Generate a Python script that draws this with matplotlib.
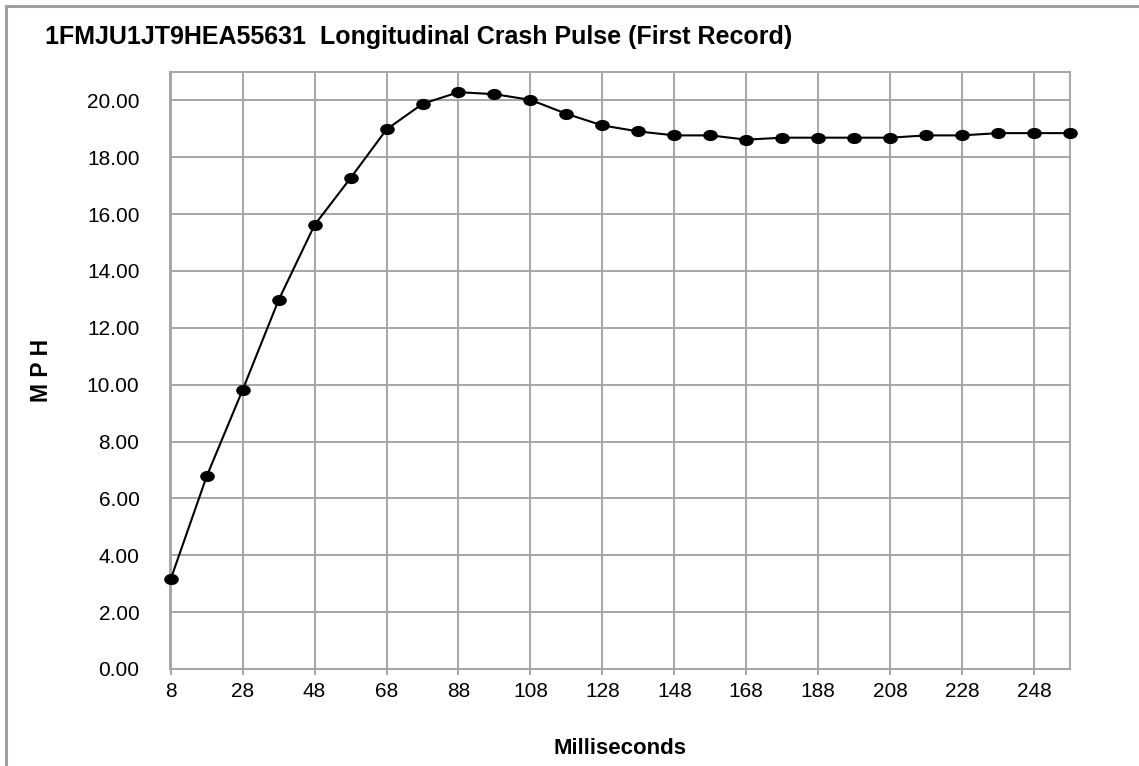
import numpy as np
import matplotlib
matplotlib.use("Agg")
import matplotlib.pyplot as plt
from matplotlib.path import Path
from matplotlib.lines import Line2D
import matplotlib.transforms as transforms

plt.rcParams['font.family'] = ['Liberation Sans', 'DejaVu Sans']

# crash pulse, first record
ms = [8, 18, 28, 38, 48, 58, 68, 78, 88, 98, 108, 118, 128, 138, 148,
      158, 168, 178, 188, 198, 208, 218, 228, 238, 248, 258]
mph = [3.16, 6.78, 9.82, 12.98, 15.62, 17.27, 18.98, 19.88, 20.29, 20.22,
       20.02, 19.53, 19.12, 18.91, 18.77, 18.77, 18.62, 18.69, 18.69, 18.69,
       18.69, 18.77, 18.77, 18.85, 18.85, 18.85]
x_ticks = [8, 28, 48, 68, 88, 108, 128, 148, 168, 188, 208, 228, 248]
y_ticks = [0, 2, 4, 6, 8, 10, 12, 14, 16, 18, 20]

W, H = 1139, 766
grid_c = '#a6a6a6'

fig = plt.figure(figsize=(W / 100, H / 100), dpi=100)
ax = fig.add_axes([170 / W, 1 - 669 / H, (1070 - 170) / W, (669 - 72) / H])

# slightly wide oval marker like the original
oval = Path.unit_circle().transformed(transforms.Affine2D().scale(1.35, 1.0))
ax.plot(ms, mph, color='black', lw=1.5, marker=oval, markersize=9.5,
        markerfacecolor='black', markeredgecolor='black', clip_on=False, zorder=3)

ax.set_xlim(7.8, 258)
ax.set_ylim(0, 21)
ax.set_xticks(x_ticks)
ax.set_xticklabels([str(v) for v in x_ticks])
ax.set_yticks(y_ticks)
ax.set_yticklabels(['%.2f' % v for v in y_ticks])

ax.grid(True, color=grid_c, lw=1.4)
ax.set_axisbelow(True)
for s in ax.spines.values():
    s.set_color(grid_c)
    s.set_linewidth(1.4)

ax.tick_params(axis='y', length=0, pad=22, labelsize=15)
ax.tick_params(axis='x', length=4.5, width=1.4, color=grid_c, pad=5, labelsize=15)

fig.text(45 / W, 1 - 44 / H, '1FMJU1JT9HEA55631  Longitudinal Crash Pulse (First Record)',
         ha='left', va='baseline', fontsize=18, fontweight='bold')
fig.text(41 / W, 1 - 370 / H, 'M P H', rotation=90, ha='center', va='center',
         fontsize=16.5, fontweight='bold')
fig.text(620 / W, 1 - 748 / H, 'Milliseconds', ha='center', va='center',
         fontsize=16, fontweight='bold')

# outer chart frame (only left and top edges are in view)
fig.add_artist(Line2D([6 / W, 6 / W], [0, 1 - 6 / H], transform=fig.transFigure,
                      color='#a0a0a0', lw=2.2))
fig.add_artist(Line2D([6 / W, 1], [1 - 6 / H, 1 - 6 / H], transform=fig.transFigure,
                      color='#a0a0a0', lw=2.2))

fig.savefig('out.png', dpi=100)
